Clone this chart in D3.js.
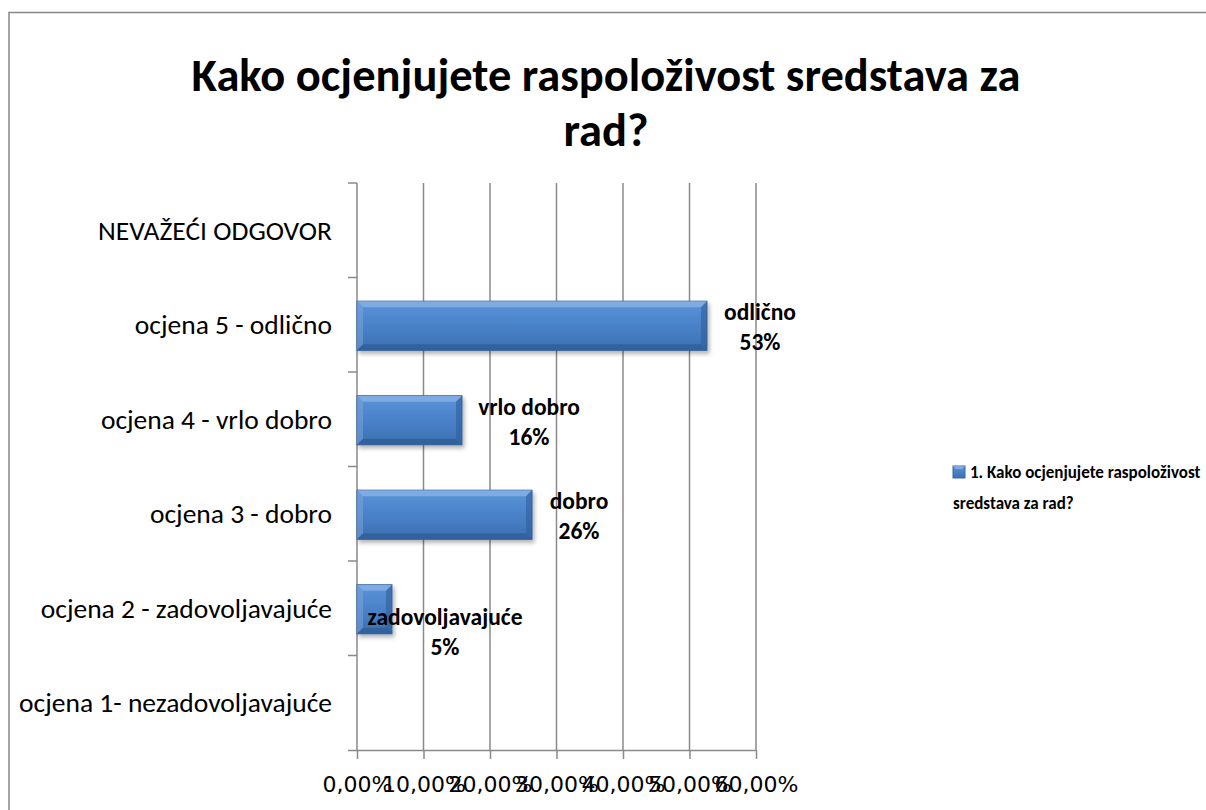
<!DOCTYPE html>
<html>
<head>
<meta charset="utf-8">
<script src="https://cdn.jsdelivr.net/npm/d3@7"></script>
<style>
  body { margin: 0; background: #fff; }
  svg { display: block; font-family: Carlito, Calibri, Lato, "Open Sans", sans-serif; }
</style>
</head>
<body>
<div class="chart"></div>
<script>
var svgWidth = 1206;
var svgHeight = 810;

// data, bottom category first
var categories = [
  "ocjena 1- nezadovoljavajuće",
  "ocjena 2 - zadovoljavajuće",
  "ocjena 3 - dobro",
  "ocjena 4 - vrlo dobro",
  "ocjena 5 - odlično",
  "NEVAŽEĆI ODGOVOR"
];
var values = [0, 5.26, 26.32, 15.79, 52.63, 0];
var labelNames = ["", "zadovoljavajuće", "dobro", "vrlo dobro", "odlično", ""];
var labelPercents = ["", "5%", "26%", "16%", "53%", ""];
var xTicks = [0, 10, 20, 30, 40, 50, 60];
var seriesName = ["1. Kako ocjenjujete raspoloživost", "sredstava za rad?"];
var titleLines = ["Kako ocjenjujete raspoloživost sredstava za", "rad?"];

var margin = { top: 183, left: 357 };
var width = 756 - 357;
var height = 750 - 183;

var svg = d3.select(".chart")
  .append("svg")
  .attr("width", svgWidth)
  .attr("height", svgHeight);

var defs = svg.append("defs");
var grad = defs.append("linearGradient")
  .attr("id", "barGrad")
  .attr("x1", 0).attr("y1", 0).attr("x2", 0).attr("y2", 1);
grad.append("stop").attr("offset", "0%").attr("stop-color", "#5b93d8");
grad.append("stop").attr("offset", "50%").attr("stop-color", "#4a82c9");
grad.append("stop").attr("offset", "100%").attr("stop-color", "#3b6fb0");

var shadow = defs.append("filter").attr("id", "shadow")
  .attr("x", "-10%").attr("y", "-20%").attr("width", "130%").attr("height", "160%");
shadow.append("feDropShadow")
  .attr("dx", 2).attr("dy", 3).attr("stdDeviation", 2)
  .attr("flood-color", "#000").attr("flood-opacity", 0.3);

// outer frame (only top and left visible)
svg.append("path")
  .attr("d", "M9,830 L9,12.5 L1230,12.5")
  .attr("fill", "none")
  .attr("stroke", "#868686")
  .attr("stroke-width", 1.5);

// title
svg.append("text")
  .attr("text-anchor", "middle")
  .attr("font-weight", "bold")
  .attr("font-size", 46.5)
  .attr("fill", "#000")
  .selectAll("tspan")
  .data(titleLines)
  .enter()
  .append("tspan")
  .attr("x", 606)
  .attr("y", (d, i) => 91 + i * 55)
  .text(d => d);

var chartGroup = svg.append("g")
  .attr("transform", `translate(${margin.left}, ${margin.top})`);

var xScale = d3.scaleLinear().domain([0, 60]).range([0, width]);
var yScale = d3.scaleBand().domain(categories.slice().reverse()).range([0, height]);

// gridlines
chartGroup.append("g")
  .selectAll("line")
  .data(xTicks.slice(1))
  .enter()
  .append("line")
  .attr("x1", d => xScale(d)).attr("x2", d => xScale(d))
  .attr("y1", 0).attr("y2", height)
  .attr("stroke", "#8a8a8a")
  .attr("stroke-width", 1.5);

// bottom axis (labels overlap in the original too)
var bottomAxis = d3.axisBottom(xScale)
  .tickValues(xTicks)
  .tickSize(9)
  .tickFormat(d => d3.format(".2f")(d).replace(".", ",") + "%");
var xAxisG = chartGroup.append("g")
  .attr("transform", `translate(0, ${height})`)
  .call(bottomAxis);
xAxisG.select(".domain")
  .attr("d", `M-9,0.5H${width}`);
xAxisG.selectAll("line").attr("stroke", "#8a8a8a").attr("stroke-width", 1.5);
xAxisG.select(".domain").attr("stroke", "#8a8a8a").attr("stroke-width", 1.5);
xAxisG.selectAll("text")
  .attr("font-family", "DejaVu Sans, Verdana, sans-serif")
  .attr("font-size", 22)
  .attr("fill", "#000")
  .attr("y", 34)
  .attr("dy", "0.36em");

// left axis: line plus ticks at band boundaries
chartGroup.append("line")
  .attr("x1", 0).attr("x2", 0).attr("y1", 0).attr("y2", height)
  .attr("stroke", "#8a8a8a").attr("stroke-width", 1.5);
var boundaries = d3.range(categories.length).map(i => i * yScale.bandwidth());
chartGroup.append("g")
  .selectAll("line")
  .data(boundaries)
  .enter()
  .append("line")
  .attr("x1", -9).attr("x2", 0)
  .attr("y1", d => d).attr("y2", d => d)
  .attr("stroke", "#8a8a8a").attr("stroke-width", 1.5);

chartGroup.append("g")
  .selectAll("text")
  .data(categories)
  .enter()
  .append("text")
  .attr("x", -25)
  .attr("y", d => yScale(d) + yScale.bandwidth() / 2)
  .attr("dy", "0.35em")
  .attr("text-anchor", "end")
  .attr("font-size", 27.5)
  .attr("fill", "#000")
  .text(d => d);

// bars
var barH = yScale.bandwidth() * 0.52;
var rows = categories.map((c, i) => ({ cat: c, value: values[i], name: labelNames[i], pct: labelPercents[i] }));

var bars = chartGroup.append("g")
  .selectAll("g")
  .data(rows.filter(d => d.value > 0))
  .enter()
  .append("g")
  .attr("transform", d => `translate(0, ${yScale(d.cat) + (yScale.bandwidth() - barH) / 2 + 1})`);

bars.append("rect")
  .attr("x", 0)
  .attr("y", 0)
  .attr("width", d => xScale(d.value))
  .attr("height", barH)
  .attr("fill", "url(#barGrad)")
  .attr("stroke", "#3a67a0")
  .attr("stroke-width", 1)
  .attr("filter", "url(#shadow)");

// bevel edges
var bev = 6;
bars.append("path")
  .attr("d", d => { var w = xScale(d.value); return `M0,0 H${w} L${w - bev},${bev} H${bev} Z`; })
  .attr("fill", "#8bb4e6").attr("opacity", 0.75);
bars.append("path")
  .attr("d", d => { var w = xScale(d.value); return `M0,${barH} H${w} L${w - bev},${barH - bev} H${bev} Z`; })
  .attr("fill", "#2c5890").attr("opacity", 0.6);
bars.append("path")
  .attr("d", d => { var w = xScale(d.value); return `M${w},0 V${barH} L${w - bev},${barH - bev} V${bev} Z`; })
  .attr("fill", "#2f5f9c").attr("opacity", 0.6);
bars.append("path")
  .attr("d", `M0,0 V${barH} L${bev},${barH - bev} V${bev} Z`)
  .attr("fill", "#7aa7df").attr("opacity", 0.5);

// data labels (manually placed in the original, offsets from bar end)
var labelDx = { "odlično": 53, "vrlo dobro": 67, "dobro": 47, "zadovoljavajuće": 53 };
var labelDy = { "odlično": 0, "vrlo dobro": 1, "dobro": 0, "zadovoljavajuće": 22 };
var labels = chartGroup.append("g")
  .selectAll("text")
  .data(rows.filter(d => d.value > 0))
  .enter()
  .append("text")
  .attr("text-anchor", "middle")
  .attr("font-weight", "bold")
  .attr("font-size", 23.5)
  .attr("fill", "#000");
labels.append("tspan")
  .attr("x", d => xScale(d.value) + labelDx[d.name])
  .attr("y", d => yScale(d.cat) + yScale.bandwidth() / 2 - 13 + labelDy[d.name])
  .attr("dy", "0.35em")
  .text(d => d.name);
labels.append("tspan")
  .attr("x", d => xScale(d.value) + labelDx[d.name])
  .attr("y", d => yScale(d.cat) + yScale.bandwidth() / 2 + 17 + labelDy[d.name])
  .attr("dy", "0.35em")
  .text(d => d.pct);

// legend
var legend = svg.append("g").attr("transform", "translate(953, 466)");
legend.append("rect")
  .attr("width", 12).attr("height", 12)
  .attr("fill", "url(#barGrad)")
  .attr("stroke", "#3a67a0");
legend.append("path")
  .attr("d", "M0,0 H12 L9,3 H3 Z")
  .attr("fill", "#8bb4e6").attr("opacity", 0.8);
legend.append("text")
  .attr("font-weight", "bold")
  .attr("font-size", 17)
  .attr("fill", "#000")
  .selectAll("tspan")
  .data(seriesName)
  .enter()
  .append("tspan")
  .attr("x", (d, i) => i === 0 ? 17 : 0)
  .attr("y", (d, i) => 6 + i * 31)
  .attr("dy", "0.35em")
  .text(d => d);
</script>
</body>
</html>
